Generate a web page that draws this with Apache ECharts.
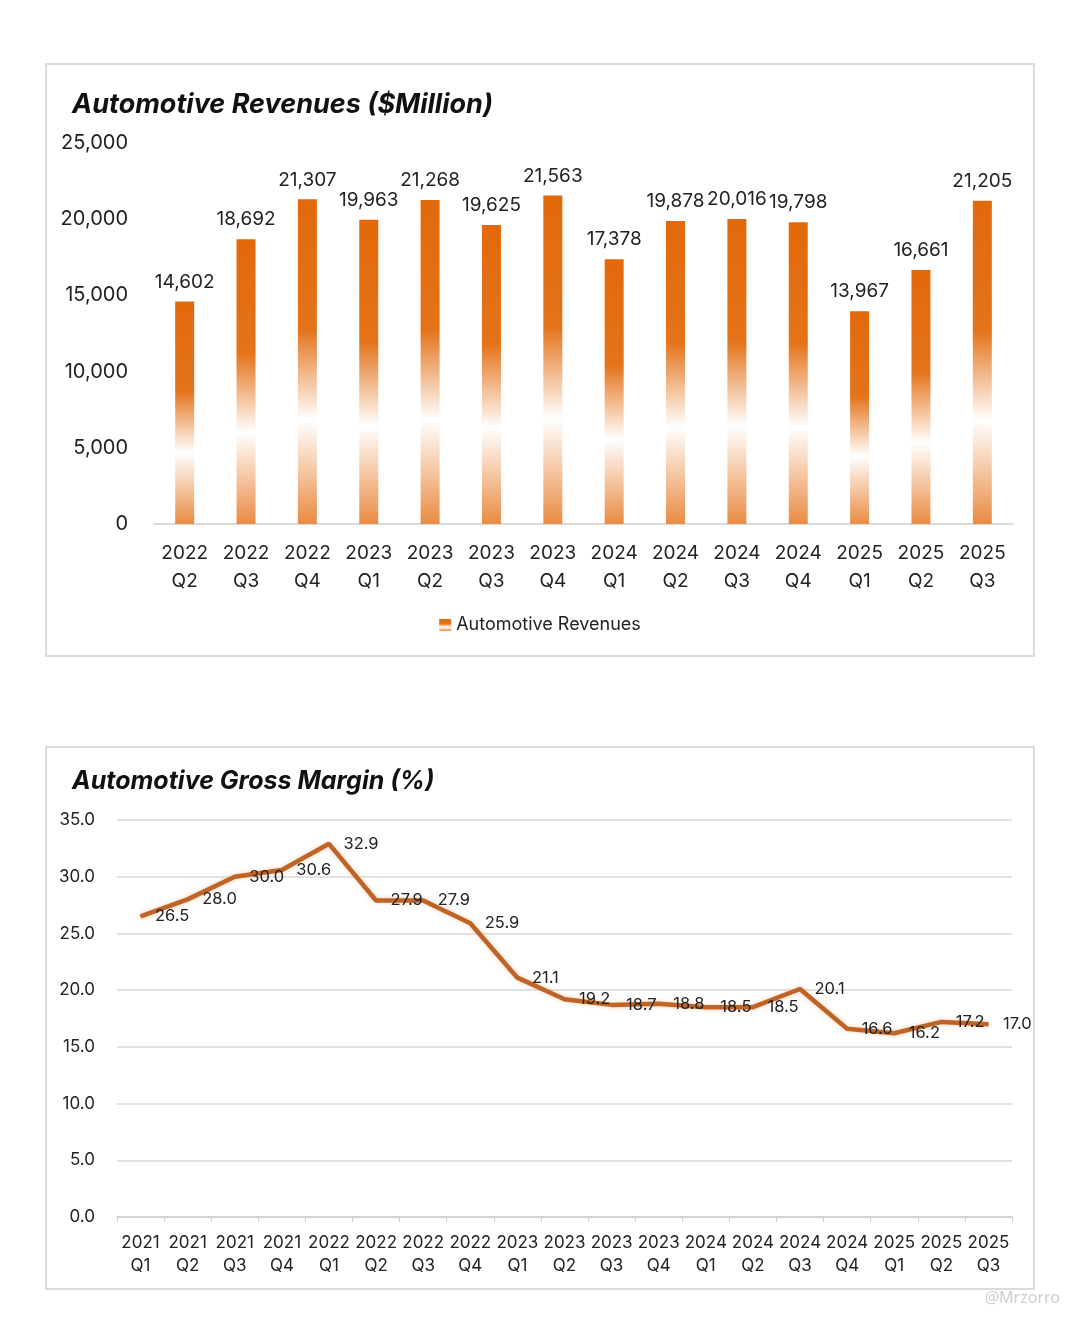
<!DOCTYPE html>
<html>
<head>
<meta charset="utf-8">
<script src="https://cdn.jsdelivr.net/npm/echarts@6/dist/echarts.min.js"></script>
<style>
  html, body { margin: 0; padding: 0; background: #ffffff; width: 1080px; height: 1320px; position: relative; overflow: hidden; }
  .box { position: absolute; box-sizing: border-box; border: 2px solid #dcdcdc; background: #fff; }
  #c1 { left: 45px; top: 63px; width: 990px; height: 594px; }
  #c2 { left: 45px; top: 746px; width: 990px; height: 544px; }
  #wm { position: absolute; right: 20px; top: 1286px; font-family: 'Noto Sans', sans-serif; font-size: 16px; color: #cfcfcf; }
</style>
</head>
<body>
<div id="c1" class="box"></div>
<div id="c2" class="box"></div>
<div id="wm">@Mrzorro</div>
<script>
const revCategories = ['2022\nQ2','2022\nQ3','2022\nQ4','2023\nQ1','2023\nQ2','2023\nQ3','2023\nQ4','2024\nQ1','2024\nQ2','2024\nQ3','2024\nQ4','2025\nQ1','2025\nQ2','2025\nQ3'];
const revValues = [14602, 18692, 21307, 19963, 21268, 19625, 21563, 17378, 19878, 20016, 19798, 13967, 16661, 21205];
const revTicks = [0, 5000, 10000, 15000, 20000, 25000];

const gmCategories = ['2021\nQ1','2021\nQ2','2021\nQ3','2021\nQ4','2022\nQ1','2022\nQ2','2022\nQ3','2022\nQ4','2023\nQ1','2023\nQ2','2023\nQ3','2023\nQ4','2024\nQ1','2024\nQ2','2024\nQ3','2024\nQ4','2025\nQ1','2025\nQ2','2025\nQ3'];
const gmValues = [26.5, 28.0, 30.0, 30.6, 32.9, 27.9, 27.9, 25.9, 21.1, 19.2, 18.7, 18.8, 18.5, 18.5, 20.1, 16.6, 16.2, 17.2, 17.0];
const gmTicks = [0, 5, 10, 15, 20, 25, 30, 35];

const FONT = 'Inter, "Noto Sans", sans-serif';
const barGrad = new echarts.graphic.LinearGradient(0, 0, 0, 1, [
  { offset: 0, color: '#E2690A' },
  { offset: 0.4, color: '#E4731A' },
  { offset: 0.68, color: '#FFFFFF' },
  { offset: 1, color: '#EA8B42' }
]);

const chart1 = echarts.init(document.getElementById('c1'), null, { renderer: 'canvas' });
chart1.setOption({
  animation: false,
  title: {
    text: 'Automotive Revenues ($Million)',
    left: 20, top: 21,
    textStyle: { fontFamily: FONT, fontSize: 27, fontWeight: 'bold', fontStyle: 'italic', color: '#111' }
  },
  legend: {
    bottom: 16, left: 'center',
    itemWidth: 12, itemHeight: 12,
    icon: 'rect',
    textStyle: { fontFamily: FONT, fontSize: 18, color: '#222' },
    data: ['Automotive Revenues']
  },
  grid: { left: 107, right: 20, top: 78, bottom: 131 },
  xAxis: {
    type: 'category',
    data: revCategories,
    axisLine: { lineStyle: { color: '#d0d0d0', width: 1.5 } },
    axisTick: { show: false },
    axisLabel: { fontFamily: FONT, fontSize: 19, color: '#222', lineHeight: 28, margin: 15, interval: 0 }
  },
  yAxis: {
    type: 'value', min: revTicks[0], max: revTicks[revTicks.length - 1], interval: 5000,
    splitLine: { show: false },
    axisLine: { show: false },
    axisTick: { show: false },
    axisLabel: {
      fontFamily: FONT, fontSize: 20, color: '#222', margin: 26,
      formatter: v => v.toLocaleString('en-US')
    }
  },
  series: [{
    name: 'Automotive Revenues',
    type: 'bar',
    data: revValues,
    barWidth: 19,
    itemStyle: { color: barGrad },
    label: {
      show: true, position: 'top', distance: 10,
      fontFamily: FONT, fontSize: 19, color: '#222',
      formatter: p => p.value.toLocaleString('en-US')
    }
  }]
});

const chart2 = echarts.init(document.getElementById('c2'), null, { renderer: 'canvas' });
chart2.setOption({
  animation: false,
  title: {
    text: 'Automotive Gross Margin (%)',
    left: 20, top: 16,
    textStyle: { fontFamily: FONT, fontSize: 25, fontWeight: 'bold', fontStyle: 'italic', color: '#111' }
  },
  grid: { left: 70, right: 21, top: 72, bottom: 71 },
  xAxis: {
    type: 'category',
    data: gmCategories,
    boundaryGap: true,
    axisLine: { lineStyle: { color: '#d0d0d0', width: 1.5 } },
    axisTick: { show: true, length: 5, lineStyle: { color: '#d0d0d0' } },
    axisLabel: { fontFamily: FONT, fontSize: 17, color: '#222', lineHeight: 23, margin: 14, interval: 0 }
  },
  yAxis: {
    type: 'value', min: gmTicks[0], max: gmTicks[gmTicks.length - 1], interval: 5,
    splitLine: { lineStyle: { color: '#d9d9d9', width: 1.5 } },
    axisLine: { show: false },
    axisTick: { show: false },
    axisLabel: {
      fontFamily: FONT, fontSize: 17, color: '#222', margin: 22,
      formatter: v => v.toFixed(1)
    }
  },
  series: [{
    type: 'line',
    data: gmValues,
    symbol: 'circle',
    symbolSize: 1,
    showSymbol: true,
    lineStyle: { color: '#BF6428', width: 4.5, shadowColor: 'rgba(240,170,110,0.6)', shadowBlur: 4 },
    itemStyle: { color: '#BF6428' },
    labelLayout: { hideOverlap: false },
    label: {
      show: true, position: 'right', distance: 14,
      fontFamily: FONT, fontSize: 16.5, color: '#222',
      formatter: p => p.value.toFixed(1)
    }
  }]
});
</script>
</body>
</html>
